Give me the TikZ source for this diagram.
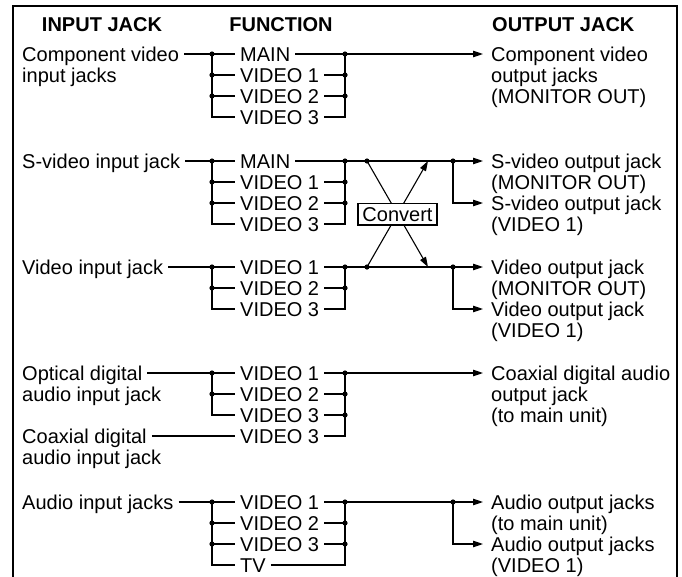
\documentclass[tikz,border=0pt]{standalone}
\usepackage{fontspec}
\setmainfont{Liberation Sans}
\usetikzlibrary{arrows.meta}
\newcommand{\fsz}{\fontsize{20}{21}\selectfont}
\begin{document}
\begin{tikzpicture}[x=1pt,y=-1pt,
  wire/.style={line width=1.1pt},
  arr/.style={wire,-{Triangle[length=10pt,width=6.5pt]}},
  lbl/.style={font=\fsz,inner ysep=0pt,inner xsep=5pt,text height=14.3pt,text depth=0pt,anchor=west},
  outlbl/.style={font=\fsz,align=left,inner ysep=0pt,inner xsep=8pt,anchor=north west},
  hdr/.style={font=\fsz\bfseries,inner sep=0pt,text height=14.3pt,text depth=0pt},
  cbox/.style={font=\fsz,draw,fill=white,line width=1.1pt,inner xsep=4.5pt,inner ysep=3.8pt,text height=14.3pt,text depth=0pt},
  dotr/.style={radius=2.6pt}
]
\useasboundingbox (0,0) rectangle (682,576);
% frame
\draw[wire] (13,600) -- (13,6) -- (677,6) -- (677,600);

% headers
\node[hdr] (h1) at (102,24) {INPUT JACK};
\node[hdr] (h2) at (281,24) {FUNCTION};
\node[hdr,anchor=west] (h3) at (492,24) {OUTPUT JACK};

% ---------- Section 1: component video ----------
\node[lbl] (i1) at (17,54) {Component video};
\node[lbl] (i1b) at (17,75) {input jacks};
\node[lbl] (f1a) at (235,54) {MAIN};
\node[lbl] (f1b) at (235,75) {VIDEO 1};
\node[lbl] (f1c) at (235,96) {VIDEO 2};
\node[lbl] (f1d) at (235,117) {VIDEO 3};
\node[outlbl] (o1) at (483,46.7) {Component video\\output jacks\\(MONITOR OUT)};
\coordinate (b1) at (212,54);
\coordinate (c1) at (345,54);
\draw[wire] (i1.east) -- (f1a.west);
\draw[wire] (b1) |- (f1d.west);
\draw[wire] (b1 |- f1b) -- (f1b.west);
\draw[wire] (b1 |- f1c) -- (f1c.west);
\draw[wire] (f1d.east) -| (c1);
\draw[wire] (f1b.east) -- (c1 |- f1b);
\draw[wire] (f1c.east) -- (c1 |- f1c);
\draw[arr] (f1a.east) -- ([yshift=-7.3pt]o1.north west);
\fill (b1) circle[dotr] (b1 |- f1b) circle[dotr] (b1 |- f1c) circle[dotr];
\fill (c1) circle[dotr] (c1 |- f1b) circle[dotr] (c1 |- f1c) circle[dotr];

% ---------- Section 2: S-video ----------
\node[lbl] (i2) at (17,161) {S-video input jack};
\node[lbl] (f2a) at (235,161) {MAIN};
\node[lbl] (f2b) at (235,182) {VIDEO 1};
\node[lbl] (f2c) at (235,203) {VIDEO 2};
\node[lbl] (f2d) at (235,224) {VIDEO 3};
\node[outlbl] (o2a) at (483,153.7) {S-video output jack\\(MONITOR OUT)};
\node[outlbl] (o2b) at (483,195.7) {S-video output jack\\(VIDEO 1)};
\coordinate (b2) at (212,161);
\coordinate (c2) at (345,161);
\draw[wire] (i2.east) -- (f2a.west);
\draw[wire] (b2) |- (f2d.west);
\draw[wire] (b2 |- f2b) -- (f2b.west);
\draw[wire] (b2 |- f2c) -- (f2c.west);
\draw[wire] (f2d.east) -| (c2);
\draw[wire] (f2b.east) -- (c2 |- f2b);
\draw[wire] (f2c.east) -- (c2 |- f2c);
\draw[arr] (f2a.east) -- ([yshift=-7.3pt]o2a.north west);
\fill (b2) circle[dotr] (b2 |- f2b) circle[dotr] (b2 |- f2c) circle[dotr];
\fill (c2) circle[dotr] (c2 |- f2b) circle[dotr] (c2 |- f2c) circle[dotr];

% ---------- Section 3: video ----------
\node[lbl] (i3) at (17,267) {Video input jack};
\node[lbl] (f3a) at (235,267) {VIDEO 1};
\node[lbl] (f3b) at (235,288) {VIDEO 2};
\node[lbl] (f3c) at (235,309) {VIDEO 3};
\node[outlbl] (o3a) at (483,259.7) {Video output jack\\(MONITOR OUT)};
\node[outlbl] (o3b) at (483,301.7) {Video output jack\\(VIDEO 1)};
\coordinate (b3) at (212,267);
\coordinate (c3) at (345,267);
\draw[wire] (i3.east) -- (f3a.west);
\draw[wire] (b3) |- (f3c.west);
\draw[wire] (b3 |- f3b) -- (f3b.west);
\draw[wire] (f3c.east) -| (c3);
\draw[wire] (f3b.east) -- (c3 |- f3b);
\draw[arr] (f3a.east) -- ([yshift=-7.3pt]o3a.north west);
\fill (b3) circle[dotr] (b3 |- f3b) circle[dotr];
\fill (c3) circle[dotr] (c3 |- f3b) circle[dotr];

% convert cross
\coordinate (x1) at (367,161);
\coordinate (x2) at (367,267);
\coordinate (t1) at (428,161);
\coordinate (t2) at (428,267);
\coordinate (s2) at (453,161);
\coordinate (s3) at (453,267);
\draw[arr] (x1) -- (t2);
\draw[arr] (x2) -- (t1);
\node[cbox] (cv) at (397.5,214) {Convert};
\draw[arr] (s2) |- ([yshift=-7.3pt]o2b.north west);
\draw[arr] (s3) |- ([yshift=-7.3pt]o3b.north west);
\fill (x1) circle[dotr] (x2) circle[dotr] (s2) circle[dotr] (s3) circle[dotr];

% ---------- Section 4: digital audio ----------
\node[lbl] (i4) at (17,373) {Optical digital};
\node[lbl] (i4b) at (17,394) {audio input jack};
\node[lbl] (i5) at (17,436) {Coaxial digital};
\node[lbl] (i5b) at (17,457) {audio input jack};
\node[lbl] (f4a) at (235,373) {VIDEO 1};
\node[lbl] (f4b) at (235,394) {VIDEO 2};
\node[lbl] (f4c) at (235,415) {VIDEO 3};
\node[lbl] (f4d) at (235,436) {VIDEO 3};
\node[outlbl] (o4) at (483,365.7) {Coaxial digital audio\\output jack\\(to main unit)};
\coordinate (b4) at (212,373);
\coordinate (c4) at (345,373);
\draw[wire] (i4.east) -- (f4a.west);
\draw[wire] (b4) |- (f4c.west);
\draw[wire] (b4 |- f4b) -- (f4b.west);
\draw[wire] (i5.east) -- (f4d.west);
\draw[wire] (f4d.east) -| (c4);
\draw[wire] (f4b.east) -- (c4 |- f4b);
\draw[wire] (f4c.east) -- (c4 |- f4c);
\draw[arr] (f4a.east) -- ([yshift=-7.3pt]o4.north west);
\fill (b4) circle[dotr] (b4 |- f4b) circle[dotr];
\fill (c4) circle[dotr] (c4 |- f4b) circle[dotr] (c4 |- f4c) circle[dotr];

% ---------- Section 5: audio ----------
\node[lbl] (i6) at (17,502) {Audio input jacks};
\node[lbl] (f5a) at (235,502) {VIDEO 1};
\node[lbl] (f5b) at (235,523) {VIDEO 2};
\node[lbl] (f5c) at (235,544) {VIDEO 3};
\node[lbl] (f5d) at (235,565) {TV};
\node[outlbl] (o5a) at (483,494.7) {Audio output jacks\\(to main unit)};
\node[outlbl] (o5b) at (483,536.7) {Audio output jacks\\(VIDEO 1)};
\coordinate (b5) at (212,502);
\coordinate (c5) at (345,502);
\coordinate (s5) at (453,502);
\draw[wire] (i6.east) -- (f5a.west);
\draw[wire] (b5) |- (f5d.west);
\draw[wire] (b5 |- f5b) -- (f5b.west);
\draw[wire] (b5 |- f5c) -- (f5c.west);
\draw[wire] (f5d.east) -| (c5);
\draw[wire] (f5b.east) -- (c5 |- f5b);
\draw[wire] (f5c.east) -- (c5 |- f5c);
\draw[arr] (f5a.east) -- ([yshift=-7.3pt]o5a.north west);
\draw[arr] (s5) |- ([yshift=-7.3pt]o5b.north west);
\fill (b5) circle[dotr] (b5 |- f5b) circle[dotr] (b5 |- f5c) circle[dotr];
\fill (c5) circle[dotr] (c5 |- f5b) circle[dotr] (c5 |- f5c) circle[dotr] (s5) circle[dotr];
\end{tikzpicture}
\end{document}
